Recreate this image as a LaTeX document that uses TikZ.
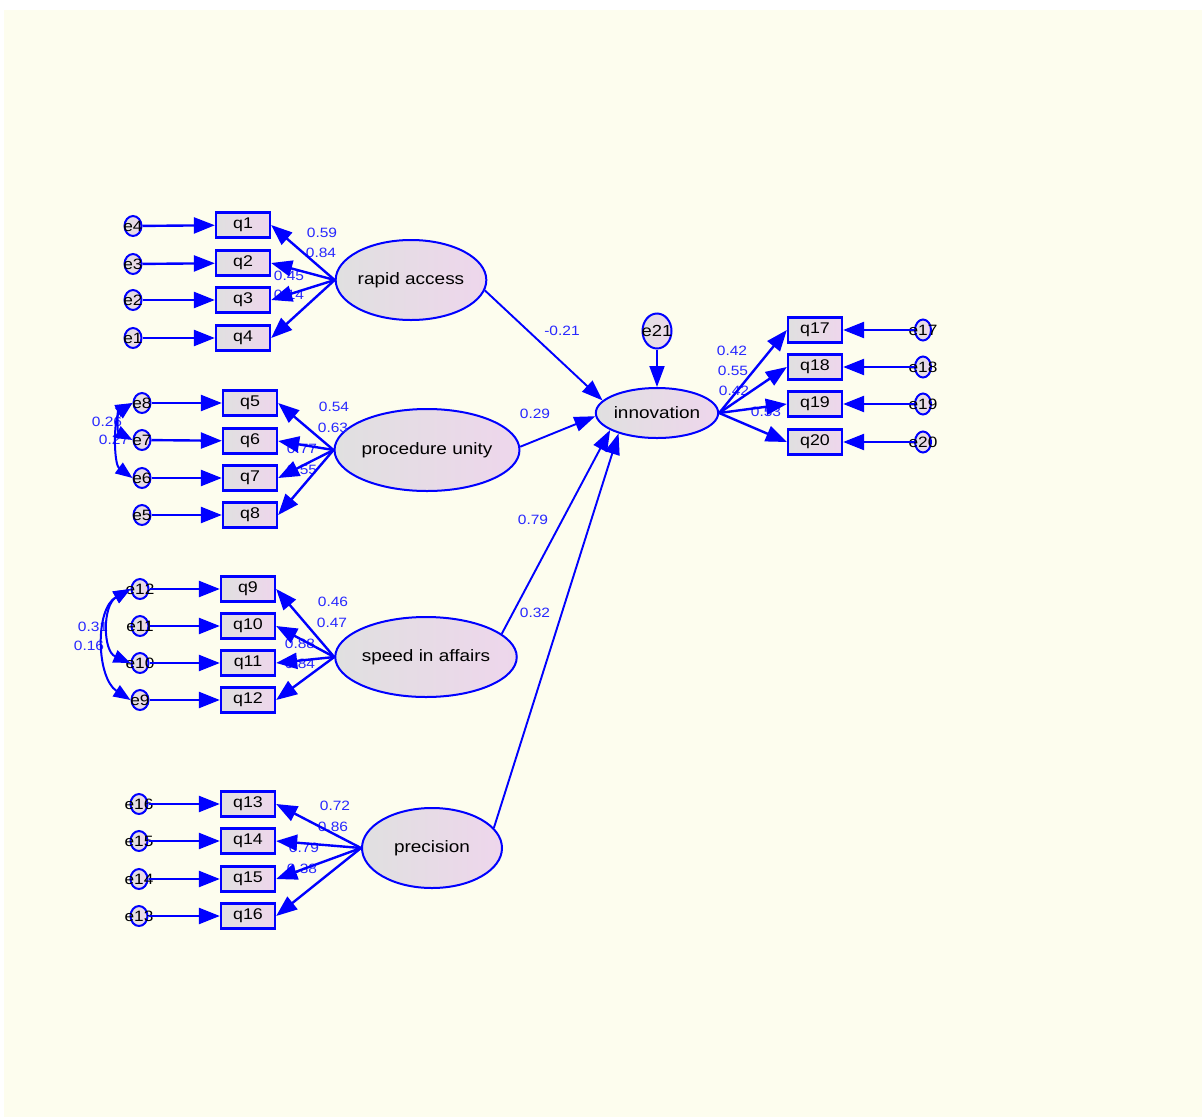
\documentclass[tikz,border=0pt]{standalone}
\usepackage{fontspec}
\setmainfont{Liberation Sans}[FakeStretch=1.15]
\usetikzlibrary{arrows.meta,shapes.geometric}
\definecolor{cream}{RGB}{253,253,238}
\definecolor{shL}{RGB}{224,224,224}
\definecolor{shR}{RGB}{238,214,236}
\definecolor{lblue}{RGB}{40,40,255}
\begin{document}
\begin{tikzpicture}[x=1pt,y=-1pt,
  obs/.style={draw=blue, line width=2.3pt, rectangle, minimum width=54pt, minimum height=25pt, inner sep=0pt, left color=shL, right color=shR, font=\fontsize{15.5}{15.5}\selectfont},
  lat/.style={draw=blue, line width=2pt, ellipse, minimum width=140pt, minimum height=80pt, inner sep=0pt, left color=shL, right color=shR, font=\fontsize{16.5}{16.5}\selectfont},
  err/.style={draw=blue, line width=2pt, ellipse, minimum width=17pt, minimum height=20pt, inner sep=0pt, left color=shL, right color=shR},
  etext/.style={font=\fontsize{15}{15}\selectfont, text=black, inner sep=0pt},
  load/.style={draw=blue, line width=2.4pt, -{Triangle[length=21pt,width=16pt]}},
  spath/.style={draw=blue, line width=1.9pt, -{Triangle[length=21pt,width=15pt]}},
  cov/.style={draw=blue, line width=2pt, {Triangle[length=17pt,width=13pt]}-{Triangle[length=17pt,width=13pt]}},
  coef/.style={text=lblue, font=\fontsize{13.5}{13.5}\selectfont, inner sep=0pt}
]
\useasboundingbox (0,0) rectangle (1202,1117);
\fill[white] (0,0) rectangle (1202,1117);
\fill[cream] (4,10) rectangle (1202,1117);

% ---------- rapid access ----------
\node[err,label={[etext]center:e4}] (e4) at (133,226) {};
\node[err,label={[etext]center:e3}] (e3) at (133,264) {};
\node[err,label={[etext]center:e2}] (e2) at (133,300) {};
\node[err,label={[etext]center:e1}] (e1) at (133,338) {};
\node[obs] (q1) at (243,225) {q1};
\node[obs] (q2) at (243,263) {q2};
\node[obs] (q3) at (243,300) {q3};
\node[obs] (q4) at (243,338) {q4};
\node[lat] (ra) at (411,280) {rapid access};
\draw[load] (e4) -- (q1);
\draw[load] (e3) -- (q2);
\draw[load] (e2) -- (q3);
\draw[load] (e1) -- (q4);
\node[coef] (l1) at (322,233) {0.59};
\node[coef] (l2) at (321,253) {0.84};
\node[coef] (l3) at (289,276) {0.45};
\node[coef] (l4) at (289,295) {0.14};
\draw[load] (ra.west) -- (q1.east);
\draw[load] (ra.west) -- (q2.east);
\draw[load] (ra.west) -- (q3.east);
\draw[load] (ra.west) -- (q4.east);

% ---------- procedure unity ----------
\node[coef] (c1) at (107,422) {0.26};
\node[coef] (c2) at (114,440) {0.27};
\node[err,label={[etext]center:e8}] (e8) at (142,403) {};
\node[err,label={[etext]center:e7}] (e7) at (142,440) {};
\node[err,label={[etext]center:e6}] (e6) at (142,478) {};
\node[err,label={[etext]center:e5}] (e5) at (142,515) {};
\node[obs] (q5) at (250,403) {q5};
\node[obs] (q6) at (250,441) {q6};
\node[obs] (q7) at (250,478) {q7};
\node[obs] (q8) at (250,515) {q8};
\node[lat,minimum width=137pt,minimum height=82pt] (pu) at (427,450) {procedure unity};
\draw[load] (e8) -- (q5);
\draw[load] (e7) -- (q6);
\draw[load] (e6) -- (q7);
\draw[load] (e5) -- (q8);
\draw[cov] (e8.west) .. controls +(-15,8) and +(-15,-8) .. (e7.west);
\draw[cov] (e8.west) .. controls +(-19,14) and +(-19,-14) .. (e6.west);
\node[coef] (l5) at (334,407) {0.54};
\node[coef] (l6) at (333,428) {0.63};
\node[coef] (l7) at (302,449) {0.77};
\node[coef] (l8) at (302,470) {0.55};
\draw[load] (pu.west) -- (q5.east);
\draw[load] (pu.west) -- (q6.east);
\draw[load] (pu.west) -- (q7.east);
\draw[load] (pu.west) -- (q8.east);

% ---------- speed in affairs ----------
\node[coef] (c3) at (93,627) {0.31};
\node[coef] (c4) at (89,646) {0.16};
\node[err,label={[etext]center:e12}] (e12) at (140,589) {};
\node[err,label={[etext]center:e11}] (e11) at (140,626) {};
\node[err,label={[etext]center:e10}] (e10) at (140,663) {};
\node[err,label={[etext]center:e9}] (e9) at (140,700) {};
\node[obs] (q9) at (248,589) {q9};
\node[obs] (q10) at (248,626) {q10};
\node[obs] (q11) at (248,663) {q11};
\node[obs] (q12) at (248,700) {q12};
\node[lat] (sp) at (426,657) {speed in affairs};
\draw[load] (e12) -- (q9);
\draw[load] (e11) -- (q10);
\draw[load] (e10) -- (q11);
\draw[load] (e9) -- (q12);
\draw[cov] (e12.west) .. controls +(-28,16) and +(-28,-12) .. (e10.west);
\draw[cov] (e12.west) .. controls +(-36,20) and +(-34,-22) .. (e9.west);
\node[coef] (l9) at (333,602) {0.46};
\node[coef] (l10) at (332,623) {0.47};
\node[coef] (l11) at (300,644) {0.88};
\node[coef] (l12) at (300,664) {0.84};
\draw[load] (sp.west) -- (q9.east);
\draw[load] (sp.west) -- (q10.east);
\draw[load] (sp.west) -- (q11.east);
\draw[load] (sp.west) -- (q12.east);

% ---------- precision ----------
\node[err,label={[etext]center:e16}] (e16) at (139,804) {};
\node[err,label={[etext]center:e15}] (e15) at (139,841) {};
\node[err,label={[etext]center:e14}] (e14) at (139,879) {};
\node[err,label={[etext]center:e13}] (e13) at (139,916) {};
\node[obs] (q13) at (248,804) {q13};
\node[obs] (q14) at (248,841) {q14};
\node[obs] (q15) at (248,879) {q15};
\node[obs] (q16) at (248,916) {q16};
\node[lat] (pr) at (432,848) {precision};
\draw[load] (e16) -- (q13);
\draw[load] (e15) -- (q14);
\draw[load] (e14) -- (q15);
\draw[load] (e13) -- (q16);
\node[coef] (l13) at (335,806) {0.72};
\node[coef] (l14) at (333,827) {0.86};
\node[coef] (l15) at (304,848) {0.79};
\node[coef] (l16) at (302,869) {0.38};
\draw[load] (pr.west) -- (q13.east);
\draw[load] (pr.west) -- (q14.east);
\draw[load] (pr.west) -- (q15.east);
\draw[load] (pr.west) -- (q16.east);

% ---------- innovation ----------
\node[lat,minimum width=107pt,minimum height=50pt] (inn) at (657,413) {innovation};
\node[err,minimum width=29pt,minimum height=35pt,label={[etext,font=\fontsize{16}{16}\selectfont]center:e21}] (e21) at (657,331) {};
\draw[spath] (e21) -- (inn);
\node[obs] (q17) at (815,330) {q17};
\node[obs] (q18) at (815,367) {q18};
\node[obs] (q19) at (815,404) {q19};
\node[obs] (q20) at (815,442) {q20};
\node[err,minimum width=16pt,minimum height=21pt,label={[etext]center:e17}] (e17) at (923,330) {};
\node[err,minimum width=16pt,minimum height=21pt,label={[etext]center:e18}] (e18) at (923,367) {};
\node[err,minimum width=16pt,minimum height=21pt,label={[etext]center:e19}] (e19) at (923,404) {};
\node[err,minimum width=16pt,minimum height=21pt,label={[etext]center:e20}] (e20) at (923,442) {};
\draw[load] (e17) -- (q17);
\draw[load] (e18) -- (q18);
\draw[load] (e19) -- (q19);
\draw[load] (e20) -- (q20);
\node[coef] (l17) at (732,351) {0.42};
\node[coef] (l18) at (733,371) {0.55};
\node[coef] (l19) at (734,391) {0.42};
\node[coef] (l20) at (766,412) {0.53};
\draw[load] (inn.east) -- (q17.west);
\draw[load] (inn.east) -- (q18.west);
\draw[load] (inn.east) -- (q19.west);
\draw[load] (inn.east) -- (q20.west);

% ---------- structural paths ----------
\node[coef] (s1) at (562,331) {-0.21};
\node[coef] (s2) at (535,414) {0.29};
\node[coef] (s3) at (533,520) {0.79};
\node[coef] (s4) at (535,613) {0.32};
\draw[spath] (ra.-8) -- (inn.167);
\draw[spath] (pu.2) -- (inn.183);
\draw[spath] (sp.17) -- (inn.200);
\draw[spath] (pr.18) -- (inn.208);
\end{tikzpicture}
\end{document}
